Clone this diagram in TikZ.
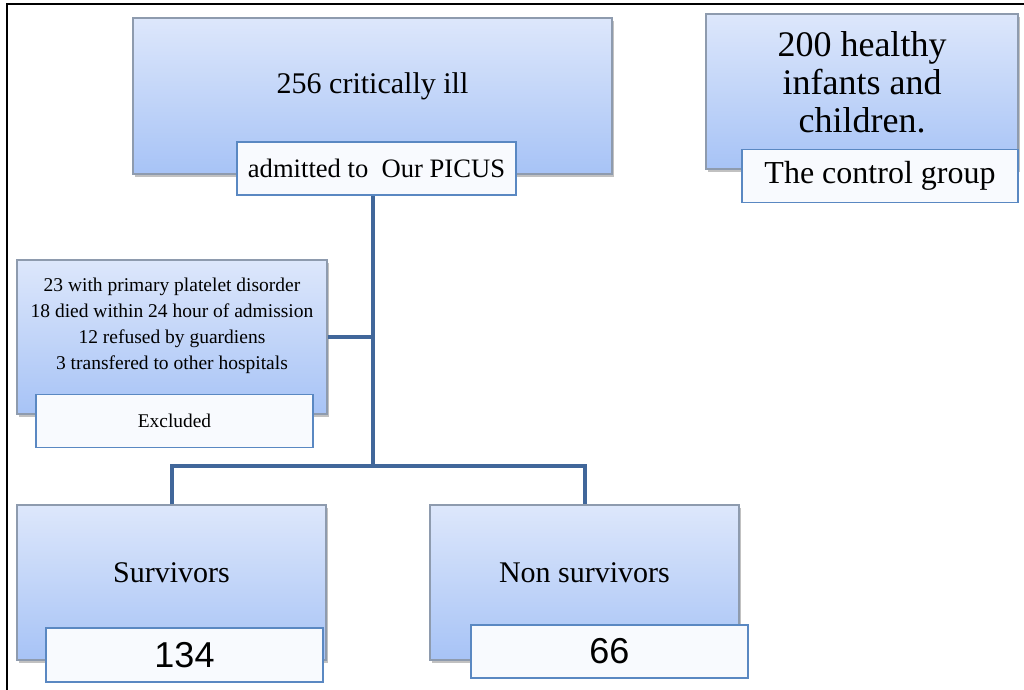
\documentclass[tikz,border=0pt]{standalone}
\usepackage{fontspec}
\setmainfont{Liberation Serif}
\newfontfamily\numfont{Liberation Sans}
\usetikzlibrary{shadows}
\definecolor{boxtop}{HTML}{DDE7FB}
\definecolor{boxbot}{HTML}{A7C3F6}
\definecolor{boxline}{HTML}{8E9BAE}
\definecolor{tagline}{HTML}{5A88C2}
\definecolor{tagfill}{HTML}{F8FAFE}
\definecolor{linkcol}{HTML}{41679A}

\begin{document}
\begin{tikzpicture}[x=.5pt, y=-.5pt,
		box/.style={draw=boxline, line width=.6pt, top color=boxtop, bottom color=boxbot,
			minimum width=154.5pt, minimum height=77.5pt, inner sep=0pt,
			drop shadow={shadow xshift=1pt, shadow yshift=-1.5pt, opacity=.35, fill=black!70}},
		tag/.style={draw=tagline, line width=.9pt, fill=tagfill,
			minimum width=138.5pt, minimum height=26.5pt, inner sep=0pt},
		link/.style={draw=linkcol, line width=2pt}]
				\useasboundingbox (0,0) rectangle (1024,690);
				\draw[line width=.75pt] (7,690) -- (7,4) -- (1024,4);
				% study group
				\node[box, minimum width=239.5pt, minimum height=78pt] (ill) at (372.5,96) {};
				\node[font=\fontsize{15}{18}\selectfont] (illtxt) at ([yshift=5pt]ill.center) {256 critically ill};
				\node[tag, minimum width=139.5pt, font=\fontsize{13.3}{16}\selectfont] (adm) at (376.5,168.5) {admitted to~ Our PICUS};
				% controls
				\node[box, minimum width=156pt] (ctrl) at (862,91.5) {};
				\node[align=center, font=\fontsize{18}{19}\selectfont] (ctrltxt) at ([yshift=4.5pt]ctrl.center) {200 healthy\\infants and\\children.};
				\node[tag, minimum width=138pt, font=\fontsize{16}{19}\selectfont] (ctrltag) at (880,176) {The control group};
				% excluded
				\node[box, minimum width=155pt, minimum height=77pt] (excl) at (172,337) {};
				\node[align=center, font=\fontsize{9.75}{13}\selectfont] (excltxt) at ([yshift=5.5pt]excl.center)
					{23 with primary platelet disorder\\18 died within 24 hour of admission\\12 refused by guardiens\\3 transfered to other hospitals};
				\node[tag, font=\fontsize{9.7}{12}\selectfont] (excltag) at (174.5,421) {Excluded};
				% outcome
				\node[box] (surv) at (171.5,582.5) {};
				\node[font=\fontsize{15}{18}\selectfont] (survtxt) at ([yshift=5pt]surv.center) {Survivors};
				\node[tag, minimum height=27pt, font=\numfont\fontsize{18}{20}\selectfont] (survtag) at (184.5,655) {134};
				\node[box] (nons) at (584.5,582.5) {};
				\node[font=\fontsize{15}{18}\selectfont] (nonstxt) at ([yshift=5pt]nons.center) {Non survivors};
				\node[tag, font=\numfont\fontsize{18}{20}\selectfont] (nonstag) at (609.5,651.5) {66};
				% connectors
				\coordinate (split) at (372.5,466);
				\draw[link] (split |- adm.south) -- (split);
				\draw[link] (excl.east) -- (excl.east -| split);
				\draw[link] (surv.north) |- (split) -| (nons.north);
			\end{tikzpicture}
\end{document}
